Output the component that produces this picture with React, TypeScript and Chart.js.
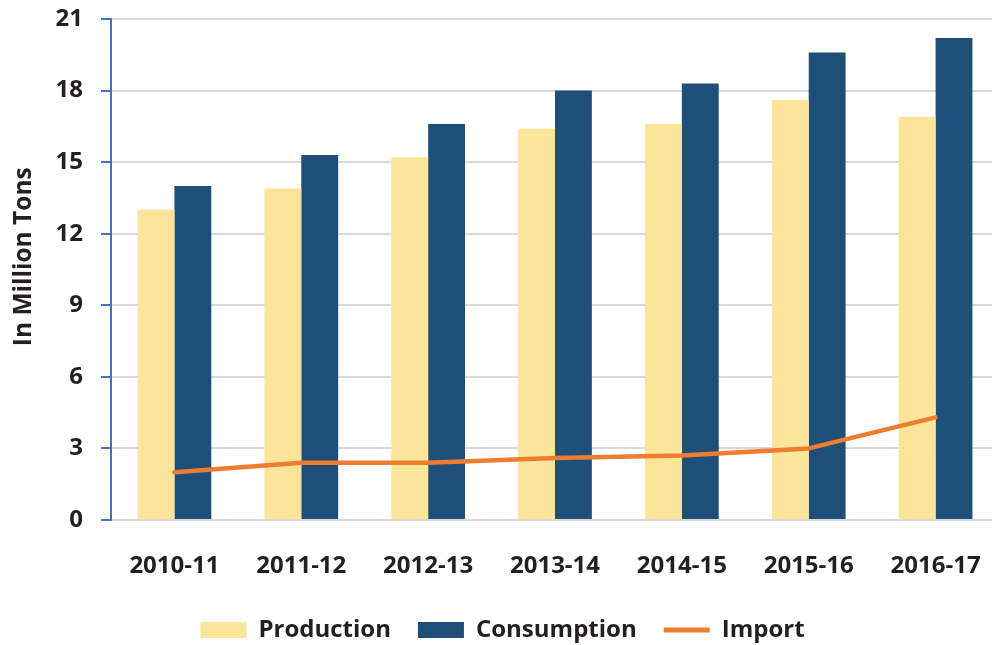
import React, { useEffect, useRef } from "react";
import { Chart, registerables } from "chart.js";

Chart.register(...registerables);

const categories = ["2010-11", "2011-12", "2012-13", "2013-14", "2014-15", "2015-16", "2016-17"];
const production = [13.0, 13.9, 15.2, 16.4, 16.6, 17.6, 16.9];
const consumption = [14.0, 15.3, 16.6, 18.0, 18.3, 19.6, 20.2];
const imports = [2.0, 2.4, 2.4, 2.6, 2.7, 3.0, 4.3];

const YELLOW = "#FCE49A";
const NAVY = "#1F4E79";
const ORANGE = "#ED7D31";
const AXIS_BLUE = "#4472C4";
const GRID = "#D9D9D9";
const TEXT = "#231F20";
const FONT = "'Open Sans', sans-serif";

export default function App() {
  const ref = useRef<HTMLCanvasElement | null>(null);

  useEffect(() => {
    if (!ref.current) return;
    const chart = new Chart(ref.current, {
      type: "bar",
      data: {
        labels: categories,
        datasets: [
          {
            type: "bar",
            label: "Production",
            data: production,
            backgroundColor: YELLOW,
            borderWidth: 0,
            categoryPercentage: 0.581,
            barPercentage: 1,
            order: 2,
          },
          {
            type: "bar",
            label: "Consumption",
            data: consumption,
            backgroundColor: NAVY,
            borderWidth: 0,
            categoryPercentage: 0.581,
            barPercentage: 1,
            order: 2,
          },
          {
            type: "line",
            label: "Import",
            data: imports,
            borderColor: ORANGE,
            backgroundColor: ORANGE,
            borderWidth: 4.5,
            borderCapStyle: "round",
            borderJoinStyle: "round",
            pointRadius: 0,
            tension: 0,
            order: 0,
          } as any,
        ],
      },
      options: {
        responsive: false,
        animation: false,
        devicePixelRatio: 1,
        layout: { padding: { left: 6, top: 19, right: 1, bottom: 0 } },
        plugins: {
          tooltip: { enabled: false },
          legend: {
            position: "bottom",
            labels: {
              usePointStyle: true,
              pointStyleWidth: 46,
              boxHeight: 16,
              padding: 27,
              color: TEXT,
              font: { family: FONT, size: 24, weight: "bold" },
              sort: (a: any, b: any) => a.datasetIndex - b.datasetIndex,
              generateLabels: (c: any) => {
                const items = (Chart.defaults.plugins.legend.labels as any).generateLabels(c);
                return items.map((it: any) =>
                  it.datasetIndex === 2
                    ? { ...it, pointStyle: "line", lineWidth: 5, strokeStyle: ORANGE, fillStyle: ORANGE }
                    : { ...it, pointStyle: "rect", lineWidth: 0 }
                );
              },
            },
          },
        },
        scales: {
          x: {
            grid: { display: false },
            border: { display: false },
            ticks: {
              padding: 24,
              color: TEXT,
              font: { family: FONT, size: 24, weight: "bold" },
            },
            afterFit: (s: any) => {
              s.height = 71;
              s.paddingLeft = 0;
              s.paddingRight = 0;
            },
          },
          y: {
            min: 0,
            max: 21,
            grid: {
              color: GRID,
              lineWidth: 2,
              tickColor: AXIS_BLUE,
              tickLength: 10,
              tickWidth: 2,
            },
            border: { color: AXIS_BLUE, width: 2 },
            ticks: {
              stepSize: 3,
              padding: 18,
              color: TEXT,
              font: { family: FONT, size: 24, weight: "bold" },
            },
            title: {
              display: true,
              text: "    In Million Tons",
              color: TEXT,
              font: { family: FONT, size: 24.5, weight: "bold" },
              padding: { top: 3, bottom: 0 },
            },
            afterFit: (s: any) => {
              s.width = 105;
              s.paddingTop = 0;
              s.paddingBottom = 0;
            },
          },
        },
      },
    });
    return () => chart.destroy();
  }, []);

  return (
    <div style={{ position: "absolute", left: 0, top: 0, width: 992, height: 645, overflow: "hidden", background: "#fff" }}>
      <canvas ref={ref} width={1000} height={652} style={{ width: 1000, height: 652, display: "block" }} />
    </div>
  );
}
